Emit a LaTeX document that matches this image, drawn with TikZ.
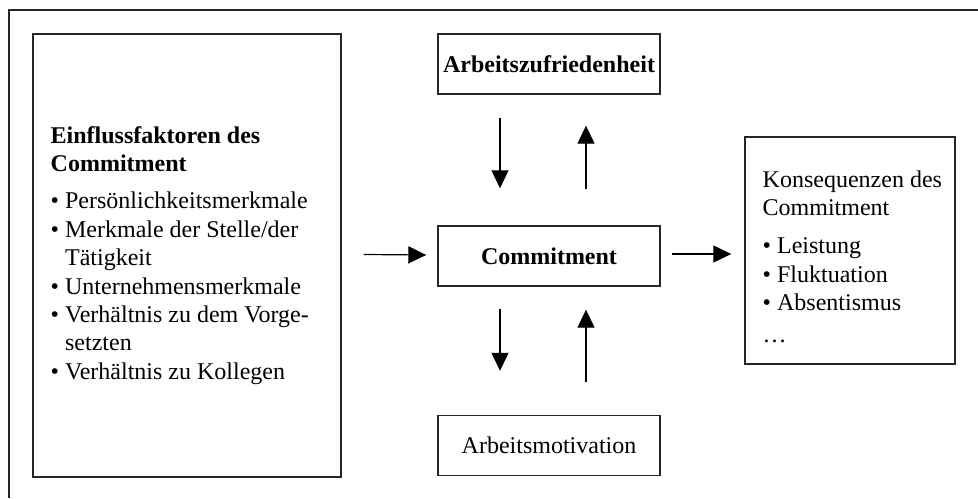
\documentclass[tikz,border=0pt]{standalone}
\usepackage{fontspec}
\setmainfont{Liberation Serif}
\usetikzlibrary{arrows.meta, positioning, calc}
\newcommand{\grund}{\fontsize{12}{14.2}\selectfont}

\begin{document}
\begin{tikzpicture}[x=0.5pt, y=-0.5pt,
    every node/.style={font=\grund, inner sep=0pt},
    kasten/.style={draw=black!85, line width=0.7pt},
    mittel/.style={kasten, minimum width=111pt, minimum height=30pt},
    pfeil/.style={line width=0.6pt, -{Triangle[length=9pt, width=8.5pt]}}]
    \useasboundingbox (0,0) rectangle (978,498);
    % Rahmen (nur oben und links sichtbar)
    \draw[line width=0.7pt, black!85] (9,498) -- (9,10) -- (978,10);
    % Kaesten
    \node[kasten, minimum width=154pt, minimum height=221.5pt] (einfluss) at (187,255.5) {};
    \node[mittel, font=\grund\bfseries] (zufrieden) at (549,64) {Arbeitszufriedenheit};
    \node[mittel, font=\grund\bfseries] (commit) at (549,256) {Commitment};
    \node[mittel] (motivation) at (549,445.5) {Arbeitsmotivation};
    \node[kasten, minimum width=105pt, minimum height=113.5pt] (kons) at (850,250.5) {};
    % Texte in den grossen Kaesten
    \node[anchor=west, align=left] (einflusstext) at ($(einfluss.west)+(18,0)$)
      {\textbf{Einflussfaktoren des}\\
       \textbf{Commitment}\\[4.3pt]
       \textbullet\ Persönlichkeitsmerkmale\\
       \textbullet\ Merkmale der Stelle/der\\
       \hphantom{\textbullet\ }Tätigkeit\\
       \textbullet\ Unternehmensmerkmale\\
       \textbullet\ Verhältnis zu dem Vorge-\\
       \hphantom{\textbullet\ }setzten\\
       \textbullet\ Verhältnis zu Kollegen};
    \node[anchor=west, align=left] (konstext) at ($(kons.west)+(18,6)$)
      {Konsequenzen des\\
       Commitment\\[5pt]
       \textbullet\ Leistung\\
       \textbullet\ Fluktuation\\
       \textbullet\ Absentismus\\[1.5pt]
       \ldots};
    % Pfeile
    \draw[pfeil] ($(einfluss.east)+(22,-1)$) -- ($(commit.west)+(-11,-1)$);
    \draw[pfeil] ($(commit.east)+(11,-2)$) -- ($(commit.east -| kons.west)+(-13,-2)$);
    \draw[pfeil] ($(zufrieden.south)+(-49,23)$) -- ($(commit.north)+(-49,-37)$);
    \draw[pfeil] ($(commit.north)+(37,-36)$) -- ($(zufrieden.south)+(37,31)$);
    \draw[pfeil] ($(commit.south)+(-49,22)$) -- ($(motivation.north)+(-49,-44)$);
    \draw[pfeil] ($(motivation.north)+(37,-33)$) -- ($(commit.south)+(37,23)$);
\end{tikzpicture}
\end{document}
